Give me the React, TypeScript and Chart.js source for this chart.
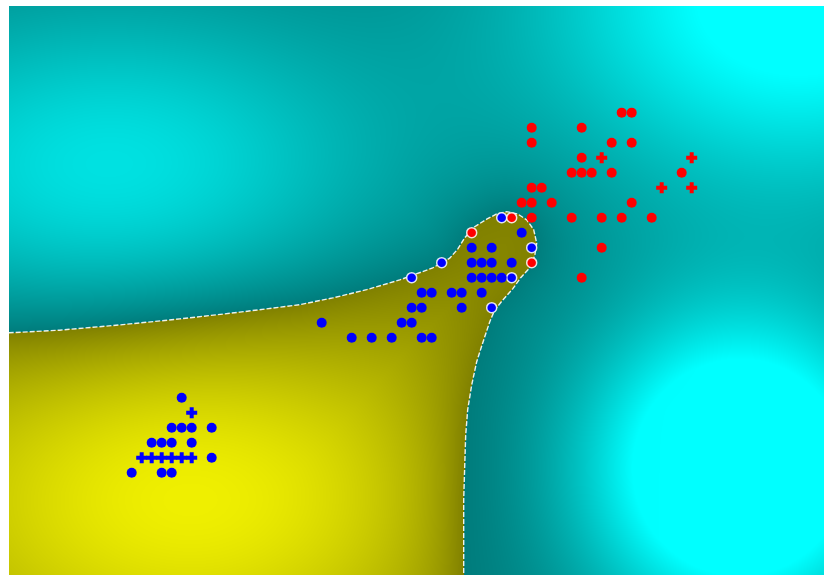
import React, { useEffect, useRef } from "react";
import { Chart, registerables } from "chart.js";

Chart.register(...registerables);

// Axis ranges (data units)
const X_MIN = 0.73;
const X_MAX = 82.23;
const Y_MIN = -0.82;
const Y_MAX = 37.11;

// Class "red" samples
const redCircleX = [62, 63, 53, 58, 53, 61, 63, 58, 57, 58, 59, 61, 68, 53, 54, 52, 53, 55, 63, 53, 57, 60, 62, 65, 60, 58];
const redCircleY = [30, 30, 29, 29, 28, 28, 28, 27, 26, 26, 26, 26, 26, 25, 25, 24, 24, 24, 24, 23, 23, 23, 23, 23, 21, 19];
const redPlusX = [60, 69, 66, 69];
const redPlusY = [27, 27, 25, 25];
const redEdgeX = [51, 47, 53];
const redEdgeY = [23, 22, 20];

// Class "blue" samples
const blueCircleX = [52, 47, 49, 47, 48, 49, 51, 47, 48, 49, 50, 42, 43, 45, 46, 48, 41, 42, 46, 32, 40, 41, 35, 37, 39, 42, 43,
  18, 17, 18, 19, 21, 15, 16, 17, 19, 21, 13, 16, 17];
const blueCircleY = [22, 21, 21, 20, 20, 20, 20, 19, 19, 19, 19, 18, 18, 18, 18, 18, 17, 17, 17, 16, 16, 16, 15, 15, 15, 15, 15,
  11, 9, 9, 9, 9, 8, 8, 8, 8, 7, 6, 6, 6];
const bluePlusX = [19, 14, 15, 16, 17, 18, 19];
const bluePlusY = [10, 7, 7, 7, 7, 7, 7];
const blueEdgeX = [50, 53, 51, 44, 41, 49];
const blueEdgeY = [23, 21, 19, 20, 19, 17];

// Decision boundary (yellow region lies below / left of it)
const boundaryX = [0, 5.8, 11.8, 17.8, 23.8, 29.8, 33.1, 36.5, 39.8, 43.1, 44.8, 45.6, 46.3, 47.3, 48.5, 49.5, 50.5, 51.6, 52.5, 53.2, 53.5, 53.3, 52.8, 51.9, 51.1, 50.1, 49.3, 48.8, 48.1, 47.5, 47.0, 46.6, 46.4, 46.3, 46.2, 46.2, 46.2];
const boundaryY = [15.3, 15.5, 15.85, 16.25, 16.7, 17.2, 17.65, 18.2, 18.85, 19.65, 20.3, 20.9, 21.65, 22.4, 22.9, 23.25, 23.4, 23.25, 22.85, 22.2, 21.3, 20.45, 19.65, 19.0, 18.25, 17.5, 16.85, 16.05, 14.65, 13.4, 11.85, 10.2, 8.5, 6.4, 4.2, 1.5, -1.5];

// Decision-value intensity peaks (data units)
const cyanPeakX = [79.8, 73.8, 10.8];
const cyanPeakY = [37.5, 6.2, 26.3];
const cyanSpreadX = [19, 11, 20];
const cyanSpreadY = [9.3, 7.3, 8];
const cyanPeakAmp = [1.15, 1.6, 0.78];
const yellowPeakX = [18.8];
const yellowPeakY = [4.4];
const yellowSpreadX = [22];
const yellowSpreadY = [9.3];
const yellowPeakAmp = [1.0];

const pts = (xs: number[], ys: number[]) => xs.map((x, i) => ({ x, y: ys[i] }));

const fieldPlugin = {
  id: "field",
  beforeDatasetsDraw(chart: any) {
    const { ctx, chartArea: a, scales } = chart;
    const xs = scales.x;
    const ys = scales.y;
    const W = Math.round(a.right - a.left);
    const H = Math.round(a.bottom - a.top);
    const bx = boundaryX.map((v) => xs.getPixelForValue(v) - a.left);
    const by = boundaryY.map((v) => ys.getPixelForValue(v) - a.top);
    const n = bx.length;
    const polyX = [...bx, -60];
    const polyY = [...by, H + 60];
    const pn = polyX.length;
    const sdx: number[] = [];
    const sdy: number[] = [];
    const sl2: number[] = [];
    for (let i = 0; i < n - 1; i++) {
      const dx = bx[i + 1] - bx[i];
      const dy = by[i + 1] - by[i];
      sdx.push(dx);
      sdy.push(dy);
      sl2.push(dx * dx + dy * dy || 1);
    }
    const pxPerX = Math.abs(xs.getPixelForValue(1) - xs.getPixelForValue(0));
    const pxPerY = Math.abs(ys.getPixelForValue(1) - ys.getPixelForValue(0));
    const mk = (PX: number[], PY: number[], SX: number[], SY: number[], AMP: number[]) =>
      PX.map((v, i) => ({
        cx: xs.getPixelForValue(v) - a.left,
        cy: ys.getPixelForValue(PY[i]) - a.top,
        sx2: 2 * Math.pow(SX[i] * pxPerX, 2),
        sy2: 2 * Math.pow(SY[i] * pxPerY, 2),
        amp: AMP[i],
      }));
    const cyanP = mk(cyanPeakX, cyanPeakY, cyanSpreadX, cyanSpreadY, cyanPeakAmp);
    const yelP = mk(yellowPeakX, yellowPeakY, yellowSpreadX, yellowSpreadY, yellowPeakAmp);

    const off = document.createElement("canvas");
    off.width = W;
    off.height = H;
    const octx = off.getContext("2d")!;
    const img = octx.createImageData(W, H);
    const data = img.data;
    for (let j = 0; j < H; j++) {
      const yc = j + 0.5;
      const cross: number[] = [];
      for (let i = 0; i < pn; i++) {
        const k = (i + 1) % pn;
        const y1 = polyY[i];
        const y2 = polyY[k];
        if ((y1 <= yc) !== (y2 <= yc)) {
          cross.push(polyX[i] + ((yc - y1) / (y2 - y1)) * (polyX[k] - polyX[i]));
        }
      }
      cross.sort((p, q) => p - q);
      for (let i = 0; i < W; i++) {
        const xc = i + 0.5;
        let c = 0;
        for (let t = 0; t < cross.length; t++) if (cross[t] < xc) c++;
        const inside = (c & 1) === 1;
        let d2 = Infinity;
        for (let s = 0; s < n - 1; s++) {
          let t = ((xc - bx[s]) * sdx[s] + (yc - by[s]) * sdy[s]) / sl2[s];
          if (t < 0) t = 0;
          else if (t > 1) t = 1;
          const ex = bx[s] + t * sdx[s] - xc;
          const ey = by[s] + t * sdy[s] - yc;
          const dd = ex * ex + ey * ey;
          if (dd < d2) d2 = dd;
        }
        const d = Math.sqrt(d2);
        const peaks = inside ? yelP : cyanP;
        let I = 0;
        for (const p of peaks) {
          const dx = xc - p.cx;
          const dy = yc - p.cy;
          I += p.amp * Math.exp(-(dx * dx) / p.sx2 - (dy * dy) / p.sy2);
        }
        if (I > 1) I = 1;
        I *= 1 - Math.exp(-d / 35);
        const o = (j * W + i) * 4;
        if (inside) {
          const v = 128 + 112 * I;
          data[o] = v;
          data[o + 1] = v;
          data[o + 2] = 0;
        } else {
          const v = 124 + 131 * I;
          data[o] = 0;
          data[o + 1] = v;
          data[o + 2] = v;
        }
        data[o + 3] = 255;
      }
    }
    octx.putImageData(img, 0, 0);
    ctx.save();
    ctx.drawImage(off, a.left, a.top, W, H);
    ctx.beginPath();
    for (let i = 0; i < n; i++) {
      const X = bx[i] + a.left;
      const Y = by[i] + a.top;
      if (i === 0) ctx.moveTo(X, Y);
      else ctx.lineTo(X, Y);
    }
    ctx.strokeStyle = "rgba(255,255,255,0.9)";
    ctx.lineWidth = 1.4;
    ctx.setLineDash([5, 2]);
    ctx.stroke();
    ctx.restore();
  },
};

export default function App() {
  const ref = useRef<HTMLCanvasElement | null>(null);
  useEffect(() => {
    if (!ref.current) return;
    const circle = (color: string) => ({
      pointStyle: "circle",
      pointRadius: 5,
      pointBackgroundColor: color,
      pointBorderColor: color,
      pointBorderWidth: 0,
    });
    const plus = (color: string) => ({
      pointStyle: "cross",
      pointRadius: 5.5,
      pointBackgroundColor: color,
      pointBorderColor: color,
      pointBorderWidth: 4,
    });
    const edge = (color: string) => ({
      pointStyle: "circle",
      pointRadius: 5,
      pointBackgroundColor: color,
      pointBorderColor: "rgba(255,255,255,0.85)",
      pointBorderWidth: 1.5,
    });
    const chart = new Chart(ref.current, {
      type: "scatter",
      data: {
        datasets: [
          { label: "red", data: pts(redCircleX, redCircleY), ...circle("#ff0000") },
          { label: "red+", data: pts(redPlusX, redPlusY), ...plus("#ff0000") },
          { label: "red sv", data: pts(redEdgeX, redEdgeY), ...edge("#ff0000") },
          { label: "blue", data: pts(blueCircleX, blueCircleY), ...circle("#0000ff") },
          { label: "blue+", data: pts(bluePlusX, bluePlusY), ...plus("#0000ff") },
          { label: "blue sv", data: pts(blueEdgeX, blueEdgeY), ...edge("#0000ff") },
        ] as any,
      },
      options: {
        animation: false,
        responsive: false,
        events: [],
        layout: { padding: 0, autoPadding: false },
        plugins: { legend: { display: false }, tooltip: { enabled: false } },
        scales: {
          x: { type: "linear", min: X_MIN, max: X_MAX, display: false },
          y: { type: "linear", min: Y_MIN, max: Y_MAX, display: false },
        },
      },
      plugins: [fieldPlugin],
    } as any);
    return () => chart.destroy();
  }, []);
  return (
    <div style={{ position: "absolute", left: 9, top: 6, width: 815, height: 569 }}>
      <canvas ref={ref} width={815} height={569} style={{ display: "block" }} />
    </div>
  );
}
